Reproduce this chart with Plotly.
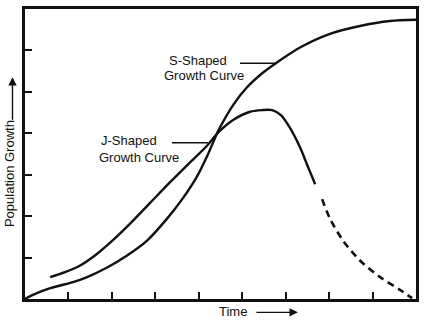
import plotly.graph_objects as go

# ---- data ----
s_x = [0.0, 0.18, 0.58, 1.04, 1.43, 1.89, 2.35, 2.81, 3.27, 3.64, 3.96, 4.21, 4.44, 4.79, 5.11, 5.46, 5.80, 6.33, 7.02, 7.71, 8.40, 9.0]
s_y = [0.0, 0.10, 0.26, 0.39, 0.53, 0.76, 1.05, 1.41, 1.94, 2.44, 2.96, 3.49, 4.04, 4.68, 5.11, 5.45, 5.71, 6.07, 6.40, 6.59, 6.71, 6.74]

j_x = [0.58, 0.92, 1.27, 1.61, 1.96, 2.42, 2.88, 3.34, 3.80, 4.19, 4.44, 4.79, 5.18, 5.46, 5.69, 5.89, 6.10, 6.33, 6.51, 6.68]
j_y = [0.53, 0.65, 0.81, 1.05, 1.36, 1.82, 2.32, 2.82, 3.30, 3.70, 4.01, 4.32, 4.52, 4.56, 4.56, 4.44, 4.13, 3.66, 3.20, 2.77]

jd_x = [6.84, 7.02, 7.32, 7.71, 8.17, 8.63, 8.91]
jd_y = [2.41, 1.94, 1.41, 0.93, 0.53, 0.22, 0.02]

x_ticks = [1, 2, 3, 4, 5, 6, 7, 8]
y_ticks = [1, 2, 3, 4, 5, 6]

s_label = ["S-Shaped", "Growth Curve"]
s_label_x = [3.98, 4.13]
s_label_y = [5.76, 5.40]
s_leader_x = [4.95, 5.80]
s_leader_y = [5.69, 5.69]

j_label = ["J-Shaped", "Growth Curve"]
j_label_x = [2.39, 2.62]
j_label_y = [3.82, 3.42]
j_leader_x = [3.38, 4.21]
j_leader_y = [3.77, 3.77]

x_title = "Time"
y_title = "Population Growth"

FONT = "Liberation Sans, Arial, sans-serif"
INK = "#111111"

fig = go.Figure()
line_style = dict(color=INK, width=2.4, shape="spline", smoothing=0.8)
fig.add_trace(go.Scatter(x=s_x, y=s_y, mode="lines", line=line_style, hoverinfo="skip"))
fig.add_trace(go.Scatter(x=j_x, y=j_y, mode="lines", line=line_style, hoverinfo="skip"))
fig.add_trace(go.Scatter(x=jd_x, y=jd_y, mode="lines",
                         line=dict(color=INK, width=2.6, shape="spline", smoothing=0.8, dash="7px,5px"),
                         hoverinfo="skip"))
# leader lines
fig.add_trace(go.Scatter(x=s_leader_x, y=s_leader_y, mode="lines", line=dict(color=INK, width=1.6), hoverinfo="skip"))
fig.add_trace(go.Scatter(x=j_leader_x, y=j_leader_y, mode="lines", line=dict(color=INK, width=1.6), hoverinfo="skip"))

ann = []
for t, x, y in zip(s_label + j_label, s_label_x + j_label_x, s_label_y + j_label_y):
    ann.append(dict(text=t, x=x, y=y, xref="x", yref="y", showarrow=False,
                    xanchor="center", yanchor="middle",
                    font=dict(family=FONT, size=13, color=INK)))

# axis titles (real text) with arrows
ann.append(dict(text=y_title, x=-0.040, y=0.432, xref="paper", yref="paper", showarrow=False,
                xanchor="center", yanchor="middle",
                textangle=-90, font=dict(family=FONT, size=13, color=INK)))
ann.append(dict(text="", x=-0.032, y=0.765, xref="paper", yref="paper", showarrow=True,
                ax=0, ay=44, arrowhead=2, arrowsize=1.2, arrowwidth=1.4, arrowcolor=INK))
ann.append(dict(text=x_title, x=0.533, y=-0.044, xref="paper", yref="paper", showarrow=False,
                xanchor="center", yanchor="middle",
                font=dict(family=FONT, size=13, color=INK)))
ann.append(dict(text="", x=0.698, y=-0.046, xref="paper", yref="paper", showarrow=True,
                ax=-43, ay=0, arrowhead=2, arrowsize=1.2, arrowwidth=1.4, arrowcolor=INK))

axis_common = dict(showgrid=False, zeroline=False, showline=True, linecolor=INK, linewidth=2.5,
                   mirror=True, ticks="inside", ticklen=7, tickwidth=2, tickcolor=INK,
                   showticklabels=False)

fig.update_layout(
    width=433, height=326,
    margin=dict(l=25, r=17, t=6, b=27),
    paper_bgcolor="white", plot_bgcolor="white",
    showlegend=False,
    xaxis=dict(range=[0, 9], tickvals=x_ticks, **axis_common),
    yaxis=dict(range=[0, 7], tickvals=y_ticks, **axis_common),
    annotations=ann,
)

fig.write_html("out.html", config={"displayModeBar": False})
